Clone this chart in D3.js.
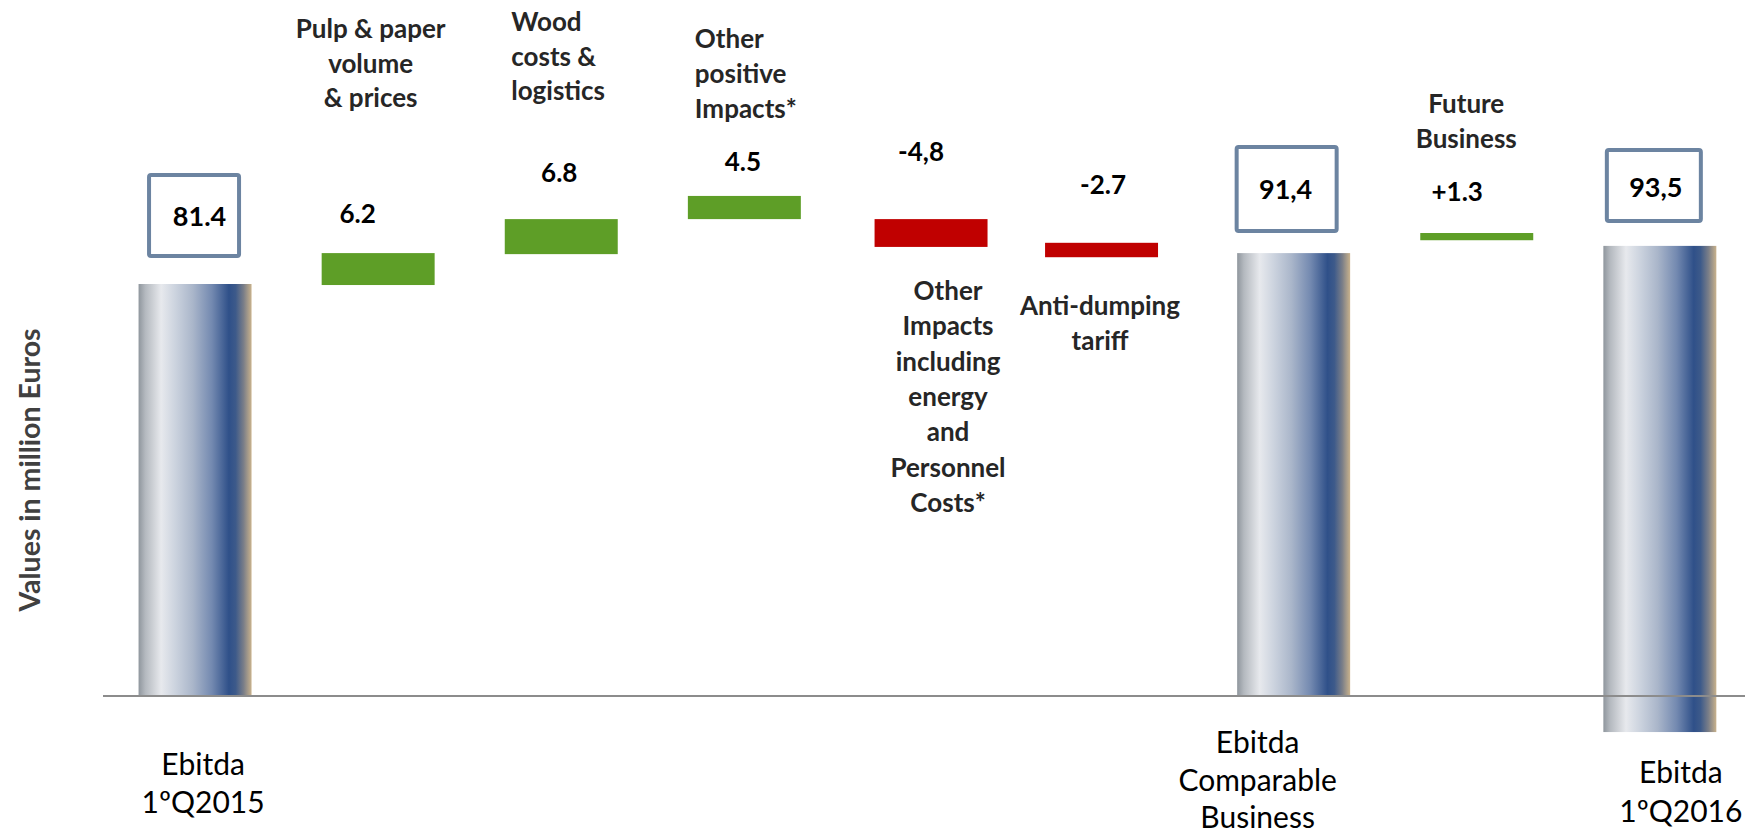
<!DOCTYPE html>
<html>
<head>
<meta charset="utf-8">
<script src="https://cdn.jsdelivr.net/npm/d3@7"></script>
<style>
  html, body { margin: 0; padding: 0; background: #ffffff; }
  svg { display: block; }
</style>
</head>
<body>
<svg id="chart" width="1745" height="833"></svg>
<script>
// ---------------- DATA ----------------
const categories = [
  "Ebitda 1ºQ2015",
  "Pulp & paper volume & prices",
  "Wood costs & logistics",
  "Other positive Impacts*",
  "Other Impacts including energy and Personnel Costs*",
  "Anti-dumping tariff",
  "Ebitda Comparable Business",
  "Future Business",
  "Ebitda 1ºQ2016"
];
const categoryLines = [
  ["Ebitda", "1ºQ2015"],
  ["Pulp & paper", "volume", "& prices"],
  ["Wood", "costs &", "logistics"],
  ["Other", "positive", "Impacts*"],
  ["Other", "Impacts", "including", "energy", "and", "Personnel", "Costs*"],
  ["Anti-dumping", "tariff"],
  ["Ebitda", "Comparable", "Business"],
  ["Future", "Business"],
  ["Ebitda", "1ºQ2016"]
];
const valueLabels = ["81.4", "6.2", "6.8", "4.5", "-4,8", "-2.7", "91,4", "+1.3", "93,5"];
const barKinds   = ["total", "up", "up", "up", "down", "down", "total", "up", "total"];
// bar extents as drawn in the picture (chart units)
const barLow  = [0,    79.8, 85.8, 92.6, 87.2, 85.2, 0,    88.5, -7.0];
const barHigh = [80.0, 86.0, 92.6, 97.1, 92.6, 88.0, 86.0, 89.9, 87.4];
const yTitle = "Values in million Euros";

// ---------------- LAYOUT ----------------
const W = 1745, H = 833;
const baselineY = 696;
// small horizontal nudges of individual columns, as placed in the picture
const colShift = [0, 0, 0, 0, 3.6, -9, 0, 0, 0];
// value label offsets (x from column centre, baseline from bar top)
const valueDx = [4.5, -20.5, -2, -1.5, -10, 1.5, -8, -19.5, -4];
const valueDy = [-58, -30, -37, -25, -58, -49, -54, -32, -49];
// boxes around totals: [dxLeft, dxRight, dyTop, dyBottom] relative to column centre / bar top
const boxGeom = {0: [-46, 44, -109, -28], 6: [-57, 43, -106, -22], 8: [-53, 41, -96, -25]};
// category labels: anchor, dx from column centre, first baseline, line height, weight
const catLayout = [
  {anchor: "middle", dx: 8,     y: 775, lh: 38,   bold: false},
  {anchor: "middle", dx: -7.5,  y: 38,  lh: 34.5, bold: true},
  {anchor: "start",  dx: -50,   y: 31,  lh: 34.5, bold: true},
  {anchor: "start",  dx: -49.5, y: 48,  lh: 35,   bold: true},
  {anchor: "middle", dx: 17,    y: 300, lh: 35.3, bold: true},
  {anchor: "middle", dx: -1.5,  y: 315, lh: 35,   bold: true},
  {anchor: "middle", dx: -36,   y: 753, lh: 37.5, bold: false},
  {anchor: "middle", dx: -10.5, y: 113, lh: 35,   bold: true},
  {anchor: "middle", dx: 21,    y: 783, lh: 39,   bold: false}
];
const colors = {up: "#5e9e27", down: "#c00000", box: "#6c84a1", catBold: "#262626", axis: "#8c8c8c", title: "#404040"};
const FONT = "Lato, 'Open Sans', sans-serif";

// ---------------- SCALES ----------------
const x = d3.scaleBand()
  .domain(categories)
  .range([103.5, 103.5 + 9 * 183.1])
  .paddingInner(0.383)
  .paddingOuter(0.1915);
const y = d3.scaleLinear().domain([0, 100]).range([baselineY, baselineY - 515]);
const cx = (d) => x(d.cat) + x.bandwidth() / 2 + colShift[d.i];

const svg = d3.select("#chart");

// gradient for total bars
const defs = svg.append("defs");
const grad = defs.append("linearGradient").attr("id", "totalGrad")
  .attr("x1", "0%").attr("x2", "100%").attr("y1", "0%").attr("y2", "0%");
[
  [0.00, "#8f969d"], [0.06, "#b4b9bf"], [0.20, "#e7e9ed"], [0.32, "#cdd4df"],
  [0.48, "#aab6ca"], [0.65, "#7389b0"], [0.80, "#2f5089"], [0.86, "#3d5a8a"],
  [0.93, "#7a7e88"], [1.00, "#c9b28c"]
].forEach(([o, c]) => grad.append("stop").attr("offset", o).attr("stop-color", c));

const data = categories.map((c, i) => ({
  cat: c, kind: barKinds[i], low: barLow[i], high: barHigh[i], label: valueLabels[i], i
}));

// bars
svg.append("g").selectAll("rect").data(data).join("rect")
  .attr("x", d => x(d.cat) + colShift[d.i])
  .attr("width", x.bandwidth())
  .attr("y", d => y(d.high))
  .attr("height", d => y(d.low) - y(d.high))
  .attr("fill", d => d.kind === "total" ? "url(#totalGrad)" : colors[d.kind]);

// baseline axis line
const xAxis = d3.axisBottom(x).tickSize(0).tickFormat("");
const axG = svg.append("g").attr("transform", `translate(0,${baselineY})`).call(xAxis);
axG.select(".domain").attr("stroke", colors.axis).attr("stroke-width", 2)
  .attr("d", `M103,0H${W}`);

// boxes
const totals = data.filter(d => d.kind === "total");
svg.append("g").selectAll("rect").data(totals).join("rect")
  .attr("x", d => cx(d) + boxGeom[d.i][0])
  .attr("width", d => boxGeom[d.i][1] - boxGeom[d.i][0])
  .attr("y", d => y(d.high) + boxGeom[d.i][2])
  .attr("height", d => boxGeom[d.i][3] - boxGeom[d.i][2])
  .attr("rx", 2)
  .attr("fill", "#ffffff")
  .attr("stroke", colors.box)
  .attr("stroke-width", 4);

// value labels
svg.append("g").selectAll("text").data(data).join("text")
  .attr("x", d => cx(d) + valueDx[d.i])
  .attr("y", d => y(d.high) + valueDy[d.i])
  .attr("text-anchor", "middle")
  .attr("font-family", FONT)
  .attr("font-weight", "bold")
  .attr("font-size", d => d.kind === "total" ? 27 : 26)
  .attr("fill", "#000")
  .text(d => d.label);

// category labels
const catG = svg.append("g");
data.forEach(d => {
  const L = catLayout[d.i];
  const tx = cx(d) + L.dx;
  const t = catG.append("text")
    .attr("x", tx)
    .attr("y", L.y)
    .attr("text-anchor", L.anchor)
    .attr("font-family", FONT)
    .attr("font-weight", L.bold ? "bold" : "normal")
    .attr("font-size", L.bold ? 26 : 30)
    .attr("fill", L.bold ? colors.catBold : "#000");
  categoryLines[d.i].forEach((line, k) => {
    t.append("tspan").attr("x", tx).attr("y", L.y + k * L.lh).text(line);
  });
});

// y axis title
svg.append("text")
  .attr("transform", "translate(40,470) rotate(-90)")
  .attr("text-anchor", "middle")
  .attr("font-family", FONT)
  .attr("font-weight", "bold")
  .attr("font-size", 28.5)
  .attr("fill", colors.title)
  .text(yTitle);
</script>
</body>
</html>
